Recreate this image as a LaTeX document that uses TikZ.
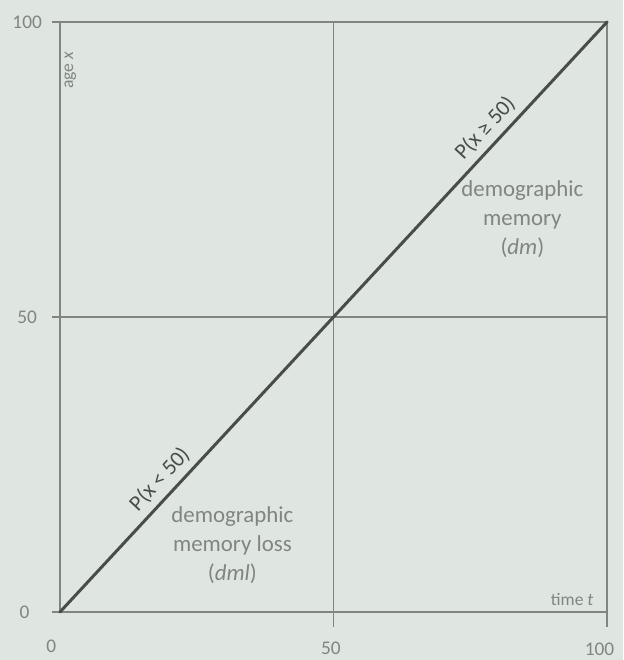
\documentclass[tikz,border=0pt]{standalone}
\usepackage{fontspec}
\setmainfont{Carlito}
\usepackage{xcolor}
\usetikzlibrary{positioning,backgrounds}

\definecolor{paper}{RGB}{223,230,226}
\definecolor{ink}{RGB}{128,133,130}
\definecolor{darkink}{RGB}{72,77,75}

\begin{document}
\begin{tikzpicture}[
  x=0.1094cm, y=0.118cm,
  axis/.style={draw=ink, line width=1pt},
  diag/.style={draw=darkink, line width=1.7pt, line cap=round},
  tick/.style={text=ink, font=\fontsize{11}{12}\selectfont},
  lab/.style={text=ink, font=\fontsize{10}{11}\selectfont},
  region/.style={text=ink, align=center, font=\fontsize{13}{16.5}\selectfont},
  prob/.style={text=darkink, font=\fontsize{12.5}{14}\selectfont, sloped, above, inner sep=3.5pt}
]
% page background
\fill[paper] (-10.97,-8.14) rectangle (102.9,103.7);
\useasboundingbox (-10.97,-8.14) rectangle (102.9,103.7);

% corners of the plot
\coordinate (o)  at (0,0);
\coordinate (tl) at (0,100);
\coordinate (tr) at (100,100);
\coordinate (br) at (100,0);
\coordinate (ml) at (0,50);
\coordinate (mr) at (100,50);
\coordinate (mb) at (50,0);
\coordinate (mt) at (50,100);

% frame and grid
\draw[axis] (-1.4,0) -- (br) -- (100,-2.5);
\draw[axis] (-1.4,100) -- (tr) -- (br);
\draw[axis] (-1.4,50) -- (mr);
\draw[axis] (mt) -- (50,-2.5);
\draw[axis] (o) -- (tl);

% axis numbers
\node[tick] (y0)   at (-6.5,0)   {0};
\node[tick] (y50)  at (-6,50)    {50};
\node[tick] (y100) at (-6,100)   {100};
\node[tick] (x0)   at (-1.6,-5.8) {0};
\node[tick] (x50)  at (49.5,-6.2) {50};
\node[tick] (x100) at (98.6,-6.4) {100};

% axis titles
\node[lab, rotate=90] (agex) at (1.9,91.8) {age \textit{x}};
\node[lab] (timet) at (93.6,2.1) {time \textit{t}};

% diagonal
\draw[diag] (o) -- (tr)
  node[prob, pos=0.205] (plow) {P(x < 50)}
  node[prob, pos=0.8] (phigh) {P(x ≥ 50)};

% regions
\node[region] (dm)  at (84.5,66.5) {demographic\\memory\\(\textit{dm})};
\node[region] (dml) at (31.5,11.3) {demographic\\memory loss\\(\textit{dml})};
\end{tikzpicture}
\end{document}
